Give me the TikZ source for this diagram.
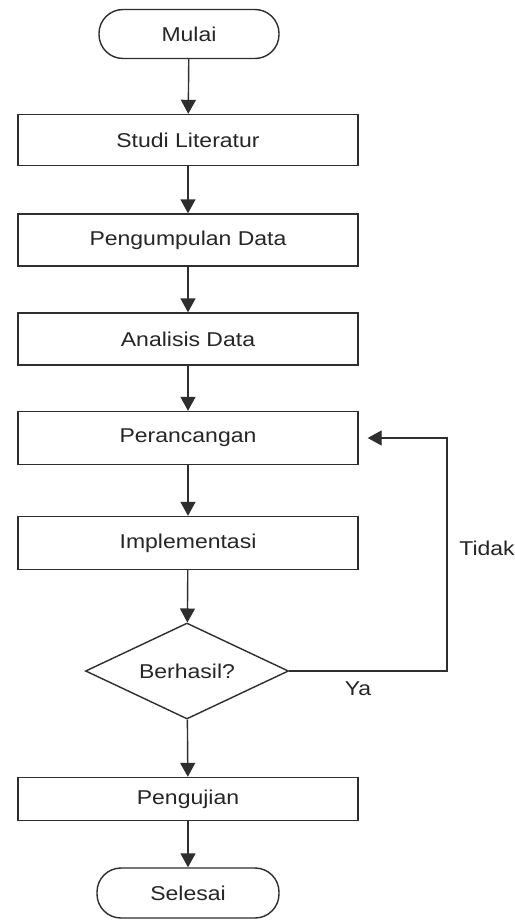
\documentclass[tikz,border=0pt]{standalone}
\usepackage{fontspec}
\setmainfont{Liberation Sans}[FakeStretch=1.15]
\usetikzlibrary{arrows.meta,shapes.geometric}
\definecolor{ink}{HTML}{2E2E2E}
\definecolor{txt}{HTML}{262626}
\begin{document}
\begin{tikzpicture}[x=1pt,y=-1pt,
  every node/.style={text=txt,font=\fontsize{20}{24}\selectfont},
  base/.style={draw=ink,line width=1.4pt,inner sep=0pt,fill=white},
  procbox/.style={base,rectangle,minimum width=340pt},
  term/.style={base,rectangle,rounded corners=24pt,minimum height=49pt},
  choice/.style={base,diamond,aspect=2.1,minimum width=203pt,minimum height=96pt},
  arr/.style={draw=ink,line width=1.4pt,-{Triangle[length=14pt,width=15pt]}},
  lbl/.style={inner sep=0pt}]
\useasboundingbox[fill=white] (0,0) rectangle (514,920);

% main chain of steps
\node[term,minimum width=180pt] (mulai) at (189,34) {Mulai};
\node[procbox,minimum height=51pt] (studi) at (188,140) {Studi Literatur};
\node[procbox,minimum height=52pt] (kumpul) at (188,240) {Pengumpulan Data};
\node[procbox,minimum height=52pt] (analisis) at (188,339) {Analisis Data};
\node[procbox,minimum height=53pt] (rancang) at (188,438) {Perancangan};
\node[procbox,minimum height=53pt] (impl) at (188,543) {Implementasi};
\node[choice] (cek) at (187,671) {Berhasil?};
\node[procbox,minimum height=43pt] (uji) at (188,799) {Pengujian};
\node[term,minimum width=182pt,minimum height=50pt] (selesai) at (188,893) {Selesai};

% arrows between steps
\draw[arr] (mulai) -- (studi);
\draw[arr] (studi) -- (kumpul);
\draw[arr] (kumpul) -- (analisis);
\draw[arr] (analisis) -- (rancang);
\draw[arr] (rancang) -- (impl);
\draw[arr] (impl) -- (cek);
\draw[arr] (cek) -- (uji);
\draw[arr] (uji) -- (selesai);

% feedback loop back to the design step
\coordinate (balik) at (447,438);
\draw[arr,shorten >=9pt] (cek.east) -| (balik) -- (rancang.east);

% branch labels
\node[lbl] (tidak) at (487,548) {Tidak};
\node[lbl] (ya) at (358,689) {Ya};
\end{tikzpicture}
\end{document}
